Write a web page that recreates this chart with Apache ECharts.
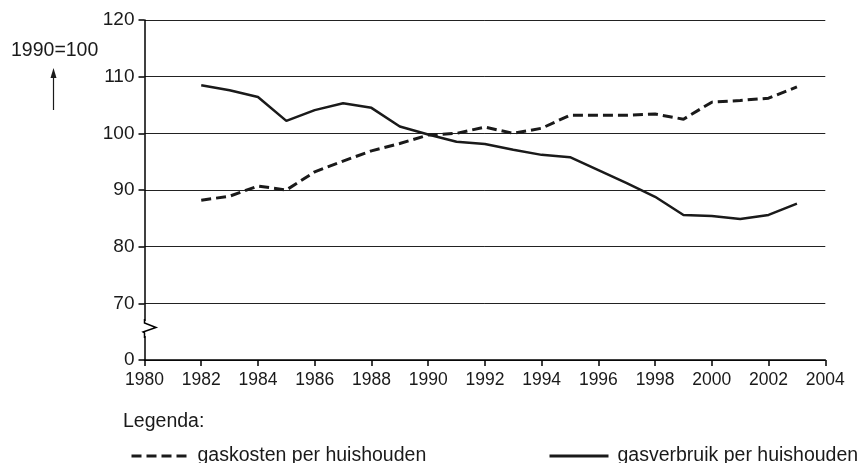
<!DOCTYPE html>
<html>
<head>
<meta charset="utf-8">
<script src="https://cdn.jsdelivr.net/npm/echarts@6/dist/echarts.min.js"></script>
<style>
  html, body { margin: 0; padding: 0; background: #fff; }
  #chart { width: 859px; height: 463px; }
</style>
</head>
<body>
<div id="chart"></div>
<script>
// jaartallen (x-as)
var years = [1982, 1983, 1984, 1985, 1986, 1987, 1988, 1989, 1990, 1991, 1992,
    1993, 1994, 1995, 1996, 1997, 1998, 1999, 2000, 2001, 2002, 2003];

// index 1990 = 100
var gaskosten = [88.2, 88.9, 90.7, 90.0, 93.2, 95.1, 96.9, 98.2, 99.7, 100.0, 101.1,
    100.0, 100.9, 103.2, 103.2, 103.2, 103.4, 102.5, 105.5, 105.8, 106.2, 108.2];
var gasverbruik = [108.5, 107.6, 106.4, 102.2, 104.1, 105.3, 104.5, 101.2, 99.8, 98.5, 98.1,
    97.1, 96.2, 95.8, 93.5, 91.2, 88.8, 85.6, 85.4, 84.9, 85.6, 87.6];

var seriesNames = ['gaskosten per huishouden', 'gasverbruik per huishouden'];

// y-as is onderbroken: de onderkant (60) wordt als 0 getoond
var yMin = 60, yMax = 120, yStep = 10;

var font = 'Liberation Sans, Arial, sans-serif';
var ink = '#1a1a1a';

function pairs(vals) {
    return vals.map(function(v, i) { return [years[i], v]; });
}

var chart = echarts.init(document.getElementById('chart'));

var legendText = { fontSize: 19.5, color: ink, fontFamily: font, padding: [0, 0, 0, 4] };

var option = {
    backgroundColor: '#fff',
    animation: false,
    textStyle: { fontFamily: font, color: ink },
    grid: { left: 144.5, right: 33.7, top: 20, bottom: 103, containLabel: false },
    xAxis: {
        type: 'value',
        min: 1980,
        max: 2004,
        interval: 2,
        axisLine: { lineStyle: { color: '#000', width: 1.5 } },
        axisTick: { show: true, length: 6, lineStyle: { color: '#000', width: 1.5 } },
        axisLabel: {
            fontSize: 17.5, color: ink, margin: 11, fontFamily: font,
            formatter: function(v) { return String(v); }
        },
        splitLine: { show: false }
    },
    yAxis: {
        type: 'value',
        min: yMin,
        max: yMax,
        interval: yStep,
        axisLine: { show: true, lineStyle: { color: '#000', width: 1.5 } },
        axisTick: { show: true, length: 6, lineStyle: { color: '#000', width: 1.5 } },
        axisLabel: {
            fontSize: 19, color: ink, margin: 10, fontFamily: font,
            formatter: function(v) { return v === yMin ? '0' : String(v); }
        },
        splitLine: { show: true, lineStyle: { color: '#222', width: 1 } }
    },
    legend: [{
        data: [seriesNames[0]],
        left: 125, top: 441,
        itemWidth: 57, itemHeight: 14,
        itemStyle: { opacity: 0 },
        lineStyle: { width: 3, type: [10, 5] },
        textStyle: legendText
    }, {
        data: [seriesNames[1]],
        left: 543, top: 441,
        itemWidth: 59, itemHeight: 14,
        itemStyle: { opacity: 0 },
        lineStyle: { width: 3 },
        textStyle: legendText
    }],
    series: [{
        name: seriesNames[0],
        type: 'line',
        data: pairs(gaskosten),
        symbol: 'none',
        lineStyle: { color: ink, width: 3, type: [10, 5] },
        itemStyle: { color: ink }
    }, {
        name: seriesNames[1],
        type: 'line',
        data: pairs(gasverbruik),
        symbol: 'none',
        lineStyle: { color: ink, width: 2.5 },
        itemStyle: { color: ink }
    }],
    graphic: [
        // onderbreking van de y-as
        { type: 'rect', shape: { x: 141, y: 321, width: 7, height: 15 }, style: { fill: '#fff' }, z: 100 },
        {
            type: 'polyline', z: 101,
            shape: { points: [[144.5, 319], [144.5, 323], [156, 327.5], [143, 332], [144.5, 333], [144.5, 338]] },
            style: { stroke: '#000', lineWidth: 1.5, fill: null }
        },
        { type: 'text', left: 11, top: 41, style: { text: '1990=100', fontSize: 19.5, fill: ink, fontFamily: font } },
        {
            type: 'line', shape: { x1: 53.5, y1: 110, x2: 53.5, y2: 72 },
            style: { stroke: ink, lineWidth: 1.2 }
        },
        {
            type: 'polygon', shape: { points: [[53.5, 68], [50.5, 78], [56.5, 78]] },
            style: { fill: ink }
        },
        { type: 'text', left: 123, top: 412, style: { text: 'Legenda:', fontSize: 19.5, fill: ink, fontFamily: font } }
    ]
};

chart.setOption(option);
</script>
</body>
</html>
